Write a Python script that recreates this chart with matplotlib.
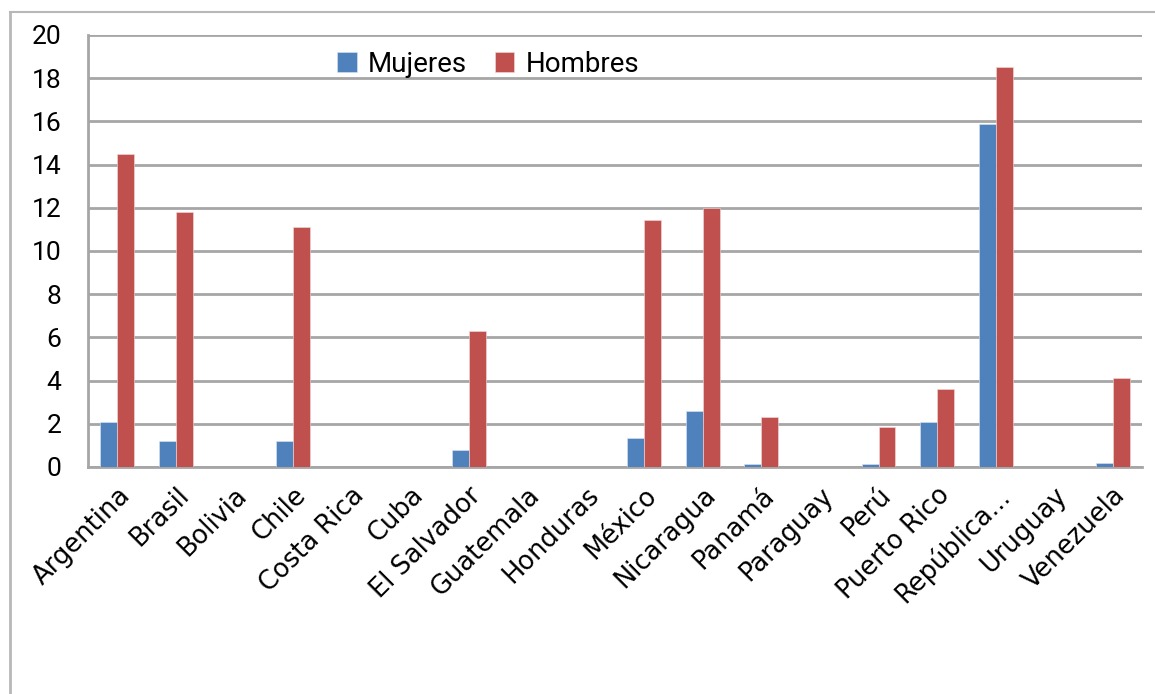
import numpy as np
import matplotlib
matplotlib.use("Agg")
import matplotlib.pyplot as plt
from matplotlib.lines import Line2D

# data
paises = ["Argentina", "Brasil", "Bolivia", "Chile", "Costa Rica", "Cuba",
          "El Salvador", "Guatemala", "Honduras", "México", "Nicaragua",
          "Panamá", "Paraguay", "Perú", "Puerto Rico", "República...",
          "Uruguay", "Venezuela"]
mujeres = [2.1, 1.2, 0, 1.2, 0, 0, 0.8, 0, 0, 1.35, 2.6, 0.15, 0, 0.14,
           2.1, 15.9, 0, 0.17]
hombres = [14.5, 11.8, 0, 11.1, 0, 0, 6.3, 0, 0, 11.45, 12.0, 2.3, 0, 1.85,
           3.6, 18.5, 0, 4.1]
y_ticks = [0, 2, 4, 6, 8, 10, 12, 14, 16, 18, 20]

W, H = 1155, 694
fig = plt.figure(figsize=(W / 100, H / 100), dpi=100)

# outer chart border (top and left visible)
fig.add_artist(Line2D([10 / W, 1.0], [1 - 12 / H, 1 - 12 / H],
                      transform=fig.transFigure, color="#b8b8b8", lw=1.5))
fig.add_artist(Line2D([10 / W, 10 / W], [0, 1 - 12 / H],
                      transform=fig.transFigure, color="#b8b8b8", lw=2))

ax = fig.add_axes([88 / W, 1 - 467 / H, (1142 - 88) / W, (467 - 35) / H])

x = np.arange(len(paises))
bw = 0.29
blue = "#4f81bd"
red = "#c0504d"
ax.bar(x - bw / 2, mujeres, bw, color=blue, edgecolor="#dce6f2",
       linewidth=0.4, label="Mujeres", zorder=3)
ax.bar(x + bw / 2, hombres, bw, color=red, edgecolor="#f2dcdb",
       linewidth=0.4, label="Hombres", zorder=3)

ax.set_xlim(-0.5, len(paises) - 0.5)
ax.set_ylim(0, 20)
ax.set_yticks(y_ticks)
ax.set_yticklabels([str(t) for t in y_ticks], fontsize=19, family="Roboto")
ax.yaxis.grid(True, color="#a6a6a6", lw=2, zorder=0)
ax.tick_params(axis="y", length=0, pad=19)
ax.tick_params(axis="x", length=0, pad=11)

ax.set_xticks(x)
ax.set_xticklabels(paises, rotation=45, ha="right", rotation_mode="anchor",
                   fontsize=18.5, family="DejaVu Sans")

for s in ["top", "right"]:
    ax.spines[s].set_visible(False)
ax.spines["left"].set_color("#a6a6a6")
ax.spines["left"].set_linewidth(2)
ax.spines["bottom"].set_color("#a6a6a6")
ax.spines["bottom"].set_linewidth(2)

leg = ax.legend(loc="upper left", bbox_to_anchor=(0.226, 0.989), ncol=2,
                frameon=False, handlelength=0.7, borderaxespad=0,
                handleheight=0.7, handletextpad=0.4, columnspacing=1.0,
                prop={"family": "Roboto", "size": 20})

fig.savefig("out.png", dpi=100)
